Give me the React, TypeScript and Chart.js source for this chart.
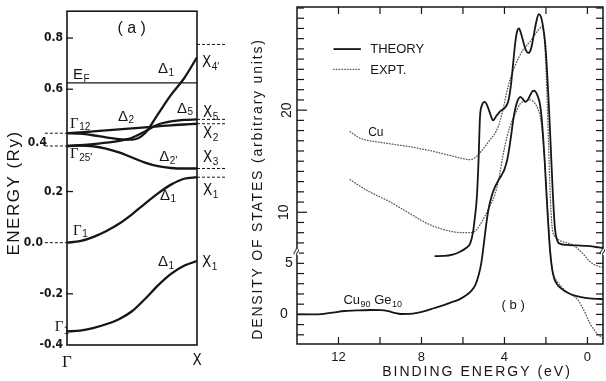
import React, { useEffect, useRef } from 'react';
import { Chart, registerables } from 'chart.js';

Chart.register(...registerables);

// ---------------- Panel (a): Cu band structure along Γ–X ----------------
const kPath = [0, 0.1, 0.2, 0.3, 0.4, 0.5, 0.6, 0.7, 0.8, 0.9, 1.0];
const bandGamma1Low = [-0.347, -0.344, -0.334, -0.319, -0.299, -0.268, -0.22, -0.167, -0.122, -0.09, -0.072];
const bandGamma1 = [0.0, 0.006, 0.022, 0.045, 0.074, 0.111, 0.153, 0.193, 0.227, 0.25, 0.256];
const bandDelta2p = [0.378, 0.38, 0.377, 0.368, 0.353, 0.333, 0.313, 0.299, 0.292, 0.29, 0.29];
const bandDelta5 = [0.378, 0.381, 0.385, 0.391, 0.398, 0.41, 0.435, 0.462, 0.474, 0.48, 0.482];
const bandDelta2 = [0.428, 0.431, 0.435, 0.439, 0.443, 0.447, 0.451, 0.455, 0.459, 0.462, 0.465];
const bandDelta1Upper = [0.428, 0.426, 0.42, 0.412, 0.405, 0.403, 0.428, 0.503, 0.578, 0.642, 0.725];
const energyTicks = [-0.4, -0.2, 0.0, 0.2, 0.4, 0.6, 0.8];
const energyTickMarks = [0.8, 0.6, 0.2, -0.2];
const fermiEnergy = 0.625;
const xPointLevels = [0.775, 0.482, 0.465, 0.29, 0.256];
const gammaPointLevels = [0.428, 0.378, 0.0];

// ---------------- Panel (b): density of states ----------------
const cuTheoryBE = [7.37, 6.9, 6.5, 6.14, 5.85, 5.65, 5.52, 5.42, 5.33, 5.25, 5.18, 5.08, 4.95, 4.82, 4.68, 4.55, 4.4, 4.2, 3.95, 3.8, 3.68, 3.57, 3.48, 3.38, 3.3, 3.2, 3.08, 2.95, 2.84, 2.72, 2.6, 2.47, 2.35, 2.25, 2.15, 2.05, 1.96, 1.86, 1.76, 1.66, 1.56, 1.45, 1.3, 1.0, 0.5, 0.0, -0.4, -0.75];
const cuTheoryDOS = [5.7, 5.72, 5.85, 6.14, 6.5, 6.96, 8.0, 9.6, 11.5, 15.0, 19.3, 20.5, 20.8, 20.4, 19.6, 19.0, 19.4, 19.9, 20.3, 21.0, 22.6, 24.8, 26.6, 27.8, 28.0, 27.5, 26.6, 25.8, 25.6, 26.0, 27.2, 28.6, 29.4, 29.2, 28.3, 26.8, 24.3, 20.5, 16.0, 11.5, 8.3, 7.2, 6.9, 6.8, 6.75, 6.7, 6.6, 6.5];

const cuExptBE = [11.44, 11.0, 10.5, 10.0, 9.5, 9.0, 8.5, 8.0, 7.5, 7.0, 6.5, 6.0, 5.7, 5.45, 5.2, 4.95, 4.7, 4.5, 4.3, 4.1, 3.9, 3.7, 3.5, 3.3, 3.1, 2.9, 2.7, 2.5, 2.3, 2.18, 2.1, 2.03, 1.96, 1.88, 1.8, 1.7, 1.55, 1.3, 1.0, 0.7, 0.4, 0.15, -0.1, -0.35, -0.55, -0.75];
const cuExptDOS = [17.9, 17.3, 17.0, 16.85, 16.7, 16.55, 16.4, 16.2, 16.0, 15.75, 15.5, 15.25, 15.15, 15.3, 15.8, 16.4, 17.1, 17.6, 18.4, 19.8, 21.7, 23.2, 24.3, 25.2, 25.9, 26.4, 26.9, 27.5, 28.0, 28.2, 27.4, 25.5, 22.0, 17.0, 12.0, 8.5, 7.6, 7.2, 7.0, 6.8, 6.3, 5.8, 5.2, 4.85, 4.7, 4.6];

const cuGeTheoryBE = [14.0, 13.3, 12.7, 12.2, 11.7, 11.0, 10.4, 9.95, 9.6, 9.3, 9.0, 8.6, 8.2, 7.8, 7.4, 7.0, 6.6, 6.2, 5.9, 5.6, 5.4, 5.25, 5.12, 5.0, 4.88, 4.75, 4.6, 4.45, 4.3, 4.15, 4.0, 3.85, 3.7, 3.58, 3.46, 3.35, 3.24, 3.12, 3.0, 2.88, 2.75, 2.62, 2.5, 2.4, 2.3, 2.22, 2.14, 2.06, 1.98, 1.9, 1.8, 1.7, 1.6, 1.45, 1.3, 1.1, 0.7, 0.3, -0.1, -0.45, -0.75];
const cuGeTheoryDOS = [0.0, 0.0, 0.05, 0.2, 0.33, 0.4, 0.43, 0.42, 0.32, 0.15, 0.04, 0.05, 0.15, 0.35, 0.6, 0.85, 1.15, 1.45, 1.8, 2.3, 2.9, 3.8, 5.0, 6.8, 8.8, 10.5, 11.7, 12.5, 13.1, 13.6, 14.2, 15.3, 17.2, 19.0, 20.3, 21.0, 21.3, 21.1, 20.8, 21.0, 21.5, 21.9, 21.8, 21.4, 20.7, 19.5, 17.5, 15.0, 12.0, 9.2, 6.2, 4.4, 3.5, 2.9, 2.6, 2.3, 1.9, 1.7, 1.57, 1.52, 1.5];

const cuGeExptBE = [11.44, 11.0, 10.5, 10.0, 9.5, 9.0, 8.5, 8.0, 7.5, 7.0, 6.5, 6.0, 5.7, 5.45, 5.2, 4.95, 4.7, 4.45, 4.25, 4.05, 3.85, 3.65, 3.45, 3.25, 3.0, 2.75, 2.55, 2.38, 2.26, 2.16, 2.08, 2.0, 1.92, 1.84, 1.75, 1.62, 1.45, 1.25, 1.0, 0.75, 0.5, 0.3, 0.1, -0.1, -0.3, -0.5, -0.75];
const cuGeExptDOS = [13.2, 12.6, 12.0, 11.5, 11.0, 10.4, 9.8, 9.2, 8.7, 8.35, 8.1, 8.0, 8.0, 8.1, 8.7, 9.6, 10.6, 11.8, 13.5, 15.8, 17.6, 18.9, 19.8, 20.6, 20.9, 21.0, 20.7, 20.1, 19.2, 17.5, 15.5, 13.0, 10.2, 7.5, 5.2, 3.8, 3.2, 2.7, 2.2, 1.9, 1.5, 0.9, 0.1, -0.8, -1.45, -1.95, -2.3];

const bindingEnergyLabels = [12, 8, 4, 0];
const bindingEnergyTickMarks = [0, 2, 4, 6, 8, 10, 12];
const dosLabels = ['0', '5', '10', '20'];
const dosRange = [-2, 30];
const axisBreakDOS = 6.1;

// ---------------- styling ----------------
const SANS = '"Liberation Sans", Arial, sans-serif';
const NARROW = '"Liberation Sans Narrow", "DejaVu Sans Condensed", "Liberation Sans", sans-serif';
const SERIF = '"Liberation Serif", "DejaVu Serif", serif';
const INK = '#161616';

type Part = [string, boolean];

function drawParts(
  ctx: CanvasRenderingContext2D,
  parts: Part[],
  x: number,
  y: number,
  size: number,
  family: string,
  align: 'left' | 'center' = 'left',
  subFamily?: string
) {
  const subSize = Math.round(size * 0.68);
  const fontFor = (sub: boolean) => `${sub ? subSize : size}px ${sub ? subFamily || family : family}`;
  const widths = parts.map(([t, sub]) => {
    ctx.font = fontFor(sub);
    return ctx.measureText(t).width;
  });
  const total = widths.reduce((a, b) => a + b, 0);
  let cx = align === 'center' ? x - total / 2 : x;
  ctx.textAlign = 'left';
  ctx.textBaseline = 'alphabetic';
  parts.forEach(([t, sub], i) => {
    ctx.font = fontFor(sub);
    ctx.fillText(t, cx, sub ? y + size * 0.18 : y);
    cx += widths[i] + (sub ? 0 : 0.5);
  });
}

function seg(ctx: CanvasRenderingContext2D, x1: number, y1: number, x2: number, y2: number) {
  ctx.beginPath();
  ctx.moveTo(x1, y1);
  ctx.lineTo(x2, y2);
  ctx.stroke();
}

const bandLabels: { parts: Part[]; k: number; e: number; size: number; fam: string; align?: 'left' | 'center' }[] = [
  { parts: [['( a )', false]], k: 0.497, e: 0.82, size: 16, fam: SANS, align: 'center' },
  { parts: [['E', false], ['F', true]], k: 0.046, e: 0.638, size: 15, fam: SANS },
  { parts: [['Δ', false], ['1', true]], k: 0.7, e: 0.662, size: 15, fam: SANS },
  { parts: [['Γ', false], ['12', true]], k: 0.023, e: 0.45, size: 15, fam: SERIF },
  { parts: [['Δ', false], ['2', true]], k: 0.392, e: 0.477, size: 15, fam: SANS },
  { parts: [['Δ', false], ['5', true]], k: 0.846, e: 0.508, size: 15, fam: SANS },
  { parts: [['Γ', false], ["25'", true]], k: 0.023, e: 0.33, size: 15, fam: SERIF },
  { parts: [['Δ', false], ["2'", true]], k: 0.71, e: 0.318, size: 15, fam: SANS },
  { parts: [['Δ', false], ['1', true]], k: 0.715, e: 0.168, size: 15, fam: SANS },
  { parts: [['Γ', false], ['1', true]], k: 0.046, e: 0.032, size: 15, fam: SERIF },
  { parts: [['Δ', false], ['1', true]], k: 0.7, e: -0.092, size: 15, fam: SANS },
  { parts: [['Γ', false], ['1', true]], k: -0.095, e: -0.347, size: 15, fam: SERIF },
  { parts: [['X', false], ["4'", true]], k: 1.038, e: 0.686, size: 15, fam: NARROW },
  { parts: [['X', false], ['5', true]], k: 1.046, e: 0.49, size: 15, fam: NARROW },
  { parts: [['X', false], ['2', true]], k: 1.046, e: 0.409, size: 15, fam: NARROW },
  { parts: [['X', false], ['3', true]], k: 1.046, e: 0.315, size: 15, fam: NARROW },
  { parts: [['X', false], ['1', true]], k: 1.046, e: 0.186, size: 15, fam: NARROW },
  { parts: [['X', false], ['1', true]], k: 1.038, e: -0.095, size: 15, fam: NARROW },
];

function buildBandChart(canvas: HTMLCanvasElement) {
  const bands = [bandGamma1Low, bandGamma1, bandDelta2p, bandDelta5, bandDelta2, bandDelta1Upper];
  const decor = {
    id: 'bandDecor',
    afterDatasetsDraw(chart: any) {
      const { ctx, chartArea: ca, scales } = chart;
      const xs = scales.x;
      const ys = scales.y;
      ctx.save();
      ctx.strokeStyle = INK;
      ctx.fillStyle = INK;
      ctx.setLineDash([]);
      // Fermi level
      ctx.lineWidth = 1.2;
      const pf = ys.getPixelForValue(fermiEnergy);
      seg(ctx, ca.left, pf, ca.right, pf);
      // frame
      ctx.lineWidth = 1.6;
      ctx.strokeRect(ca.left, ca.top, ca.right - ca.left, ca.bottom - ca.top);
      // tick marks
      ctx.lineWidth = 1.3;
      energyTickMarks.forEach((v) => {
        const p = ys.getPixelForValue(v);
        seg(ctx, ca.left - 1, p, ca.left + 6, p);
      });
      // dashed level markers
      ctx.lineWidth = 1;
      ctx.setLineDash([3, 2]);
      const xr = xs.getPixelForValue(1.228);
      xPointLevels.forEach((e) => {
        const p = ys.getPixelForValue(e);
        seg(ctx, ca.right, p, xr, p);
      });
      const xl = xs.getPixelForValue(-0.17);
      gammaPointLevels.forEach((e) => {
        const p = ys.getPixelForValue(e);
        seg(ctx, xl, p, ca.left, p);
      });
      ctx.setLineDash([]);
      // special tick labels
      ctx.font = `bold 12px ${NARROW}`;
      ctx.textAlign = 'right';
      ctx.textBaseline = 'middle';
      ctx.fillText('0.0', xs.getPixelForValue(-0.185), ys.getPixelForValue(0));
      ctx.fillText('0.4', xs.getPixelForValue(-0.154), ys.getPixelForValue(0.39));
      // band labels
      bandLabels.forEach((l) => {
        drawParts(ctx, l.parts, xs.getPixelForValue(l.k), ys.getPixelForValue(l.e), l.size, l.fam, l.align || 'left', SANS);
      });
      // axis title
      ctx.save();
      ctx.translate(14, 193);
      ctx.rotate(-Math.PI / 2);
      ctx.font = `17px ${SANS}`;
      (ctx as any).letterSpacing = '1.5px';
      ctx.textAlign = 'center';
      ctx.textBaseline = 'middle';
      ctx.fillText('ENERGY (Ry)', 0, 0);
      ctx.restore();
      ctx.restore();
    },
  };
  return new Chart(canvas, {
    type: 'line',
    data: {
      datasets: bands.map((b) => ({
        data: kPath.map((k, i) => ({ x: k, y: b[i] })),
        borderColor: INK,
        borderWidth: 2.3,
        pointRadius: 0,
        fill: false,
        cubicInterpolationMode: 'monotone' as const,
      })),
    },
    options: {
      animation: false,
      responsive: false,
      devicePixelRatio: 1,
      layout: { padding: { left: 0, top: 11, right: 43, bottom: 0 } },
      plugins: { legend: { display: false }, tooltip: { enabled: false } },
      scales: {
        x: {
          type: 'linear',
          min: 0,
          max: 1,
          afterFit: (s: any) => {
            s.height = 36;
          },
          afterBuildTicks: (s: any) => {
            s.ticks = [{ value: 0 }, { value: 1 }];
          },
          ticks: {
            callback: (v: any) => (v === 0 ? 'Γ' : 'X'),
            color: INK,
            padding: 7,
            maxRotation: 0,
            font: (c: any) => (c.tick && c.tick.value === 0 ? { family: SERIF, size: 17 } : { family: NARROW, size: 15 }),
          },
          grid: { display: false, drawTicks: false },
          border: { display: false },
        },
        y: {
          type: 'linear',
          min: -0.4,
          max: 0.905,
          afterFit: (s: any) => {
            s.width = 67;
          },
          afterBuildTicks: (s: any) => {
            s.ticks = energyTicks.map((v) => ({ value: v }));
          },
          ticks: {
            callback: (v: any) => (Math.abs(v) < 1e-9 || Math.abs(v - 0.4) < 1e-9 ? '' : Number(v).toFixed(1)),
            color: INK,
            padding: 4,
            font: { family: NARROW, size: 12, weight: 'bold' },
          },
          grid: { display: false, drawTicks: false },
          border: { display: false },
        },
      },
    },
    plugins: [decor],
  } as any);
}

function buildDosChart(canvas: HTMLCanvasElement) {
  const pts = (be: number[], dos: number[]) => be.map((x, i) => ({ x, y: dos[i] }));
  const theoryStyle = { borderColor: INK, borderWidth: 1.8, pointRadius: 0, showLine: true, fill: false, cubicInterpolationMode: 'monotone' as const };
  const exptStyle = {
    borderColor: '#555',
    borderWidth: 1.3,
    borderDash: [0.6, 2.2],
    borderCapStyle: 'round' as const,
    pointRadius: 0,
    showLine: true,
    fill: false,
    cubicInterpolationMode: 'monotone' as const,
  };
  const decor = {
    id: 'dosDecor',
    afterDatasetsDraw(chart: any) {
      const { ctx, chartArea: ca, scales } = chart;
      const xs = scales.x;
      const ys = scales.y;
      ctx.save();
      ctx.strokeStyle = INK;
      ctx.fillStyle = INK;
      ctx.setLineDash([]);
      ctx.lineWidth = 1.5;
      ctx.strokeRect(ca.left, ca.top, ca.right - ca.left, ca.bottom - ca.top);
      ctx.lineWidth = 1.2;
      bindingEnergyTickMarks.forEach((v) => {
        const p = xs.getPixelForValue(v);
        seg(ctx, p, ca.bottom, p, ca.bottom - 7);
        seg(ctx, p, ca.top, p, ca.top + 7);
      });
      for (let v = dosRange[0]; v <= dosRange[1]; v++) {
        const p = ys.getPixelForValue(v);
        const long = v === 0 || v === 10 || v === 20;
        seg(ctx, ca.left, p, ca.left + (long ? 10 : 7), p);
        seg(ctx, ca.right, p, ca.right - 7, p);
      }
      // axis break marks
      const pb = ys.getPixelForValue(axisBreakDOS);
      [ca.left, ca.right].forEach((xb) => {
        ctx.fillStyle = '#fff';
        ctx.fillRect(xb - 2, pb - 3, 4, 6);
        ctx.fillStyle = INK;
        ctx.save();
        ctx.translate(xb, pb);
        ctx.rotate(-Math.PI / 2.6);
        ctx.font = `13px ${SANS}`;
        ctx.textAlign = 'center';
        ctx.textBaseline = 'middle';
        ctx.fillText('≈', 0, 0);
        ctx.restore();
      });
      // y tick labels
      ctx.font = `14px ${SANS}`;
      ctx.textAlign = 'center';
      ctx.textBaseline = 'middle';
      const labelX: Record<string, number> = { '0': -13, '5': -8, '10': -13, '20': -10 };
      const rotated: Record<string, boolean> = { '0': false, '5': false, '10': true, '20': true };
      dosLabels.forEach((t) => {
        const p = ys.getPixelForValue(Number(t));
        ctx.save();
        ctx.translate(ca.left + labelX[t], p);
        if (rotated[t]) ctx.rotate(-Math.PI / 2);
        ctx.fillText(t, 0, 0);
        ctx.restore();
      });
      // titles
      ctx.save();
      ctx.translate(18, 189);
      ctx.rotate(-Math.PI / 2);
      ctx.font = `14px ${SANS}`;
      (ctx as any).letterSpacing = '1.8px';
      ctx.fillText('DENSITY OF STATES (arbitrary units)', 0, 0);
      ctx.restore();
      ctx.save();
      ctx.font = `14px ${SANS}`;
      (ctx as any).letterSpacing = '2px';
      ctx.textAlign = 'center';
      ctx.textBaseline = 'middle';
      ctx.fillText('BINDING ENERGY (eV)', 237, 372);
      ctx.restore();
      // legend
      const ly1 = ys.getPixelForValue(25.98);
      const ly2 = ys.getPixelForValue(24.0);
      const lx1 = xs.getPixelForValue(12.24);
      const lx2 = xs.getPixelForValue(10.92);
      ctx.lineWidth = 1.8;
      seg(ctx, lx1, ly1, lx2, ly1);
      ctx.strokeStyle = '#555';
      ctx.lineWidth = 1.3;
      ctx.lineCap = 'round';
      ctx.setLineDash([0.6, 2.2]);
      seg(ctx, lx1, ly2, lx2, ly2);
      ctx.setLineDash([]);
      ctx.lineCap = 'butt';
      ctx.font = `13px ${SANS}`;
      ctx.textAlign = 'left';
      ctx.textBaseline = 'middle';
      const tx = xs.getPixelForValue(10.47);
      ctx.fillText('THEORY', tx, ly1 + 0.5);
      ctx.fillText('EXPT.', tx, ly2 + 1);
      // curve labels
      drawParts(ctx, [['Cu', false]], xs.getPixelForValue(10.57), ys.getPixelForValue(17.5), 12, SANS);
      drawParts(ctx, [['Cu', false], ['90', true], [' Ge', false], ['10', true]], xs.getPixelForValue(11.76), ys.getPixelForValue(1.0), 13, SANS);
      drawParts(ctx, [['( b )', false]], xs.getPixelForValue(3.58), ys.getPixelForValue(0.55), 13, SANS, 'center');
      ctx.restore();
    },
  };
  return new Chart(canvas, {
    type: 'scatter',
    data: {
      datasets: [
        { data: pts(cuTheoryBE, cuTheoryDOS), ...theoryStyle },
        { data: pts(cuExptBE, cuExptDOS), ...exptStyle },
        { data: pts(cuGeTheoryBE, cuGeTheoryDOS), ...theoryStyle },
        { data: pts(cuGeExptBE, cuGeExptDOS), ...exptStyle },
      ],
    },
    options: {
      animation: false,
      responsive: false,
      devicePixelRatio: 1,
      layout: { padding: { left: 0, top: 7, right: 3, bottom: 0 } },
      plugins: { legend: { display: false }, tooltip: { enabled: false } },
      scales: {
        x: {
          type: 'linear',
          reverse: true,
          min: -0.75,
          max: 14,
          afterFit: (s: any) => {
            s.height = 37;
          },
          afterBuildTicks: (s: any) => {
            s.ticks = bindingEnergyLabels.map((v) => ({ value: v }));
          },
          ticks: { color: INK, padding: 6, maxRotation: 0, font: { family: SANS, size: 13 }, callback: (v: any) => String(v) },
          grid: { display: false, drawTicks: false },
          border: { display: false },
        },
        y: {
          type: 'linear',
          min: -2.9,
          max: 30.1,
          afterFit: (s: any) => {
            s.width = 57;
          },
          ticks: { display: false },
          grid: { display: false, drawTicks: false },
          border: { display: false },
        },
      },
    },
    plugins: [decor],
  } as any);
}

export default function App() {
  const refA = useRef<HTMLCanvasElement>(null);
  const refB = useRef<HTMLCanvasElement>(null);
  useEffect(() => {
    const a = buildBandChart(refA.current!);
    const b = buildDosChart(refB.current!);
    return () => {
      a.destroy();
      b.destroy();
    };
  }, []);
  return (
    <div style={{ position: 'absolute', left: 0, top: 0, width: 606, height: 381, background: '#fff', overflow: 'hidden' }}>
      <canvas ref={refA} width={240} height={381} style={{ position: 'absolute', left: 0, top: 0, width: 240, height: 381 }} />
      <canvas ref={refB} width={366} height={381} style={{ position: 'absolute', left: 240, top: 0, width: 366, height: 381 }} />
    </div>
  );
}
